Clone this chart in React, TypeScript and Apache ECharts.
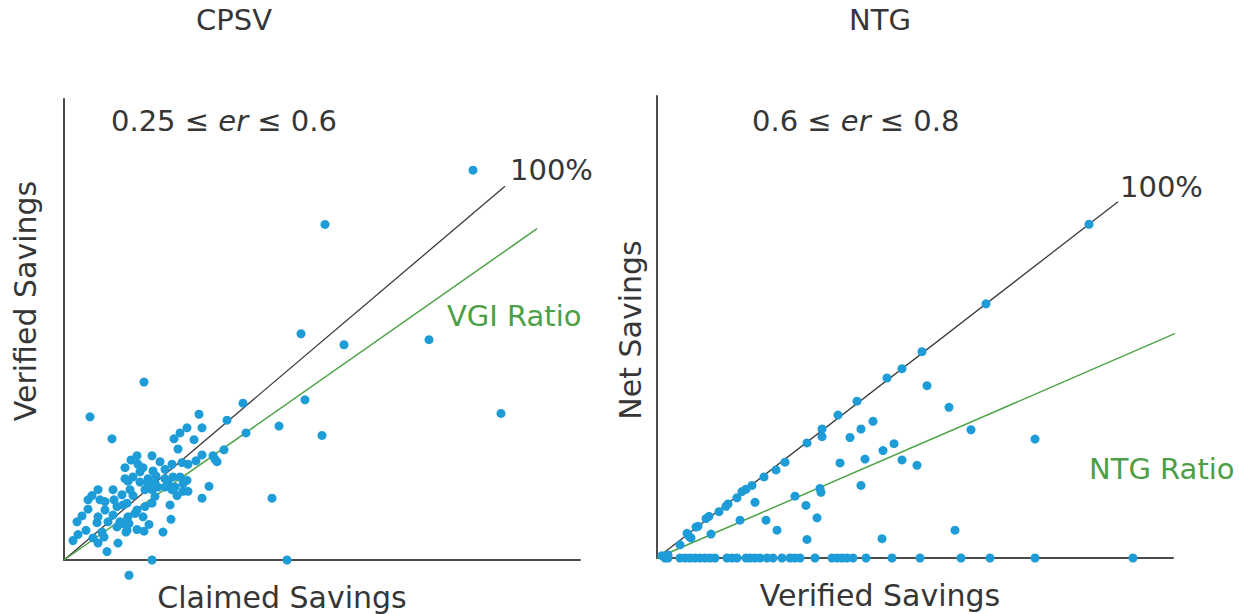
import React, { useEffect, useRef } from "react";
import * as echarts from "echarts";

// ---- CPSV panel: Claimed Savings (x) vs Verified Savings (y) ----
const cpsvPoints: [number, number][] = [
  [80, 210], [26, 169], [48, 143], [135, 172], [179, 185], [163, 165], [123, 156], [116, 150],
  [110, 143], [138, 156], [130, 142], [114, 131], [182, 150], [160, 130], [138, 124], [149, 123],
  [153, 116], [132, 117], [124, 113], [118, 115], [108, 113], [101, 107], [96, 116], [88, 123],
  [73, 123], [67, 118], [74, 113], [79, 109], [61, 109], [76, 104], [89, 105], [92, 99],
  [84, 96], [69, 98], [64, 93], [76, 92], [84, 91], [91, 91], [101, 96], [109, 98],
  [116, 98], [123, 94], [111, 86], [101, 86], [94, 86], [88, 83], [81, 83], [119, 81],
  [113, 76], [124, 81], [145, 87], [138, 73], [106, 65], [91, 75], [88, 67], [81, 63],
  [73, 59], [79, 51], [107, 48], [99, 33], [85, 42], [80, 34], [73, 36], [62, 33],
  [65, 43], [64, 51], [56, 45], [53, 39], [44, 45], [38, 33], [54, 20], [43, 10],
  [34, 20], [40, 27], [33, 44], [34, 51], [41, 59], [24, 60], [18, 52], [13, 45],
  [22, 35], [14, 30], [9, 23], [29, 26], [24, 71], [28, 76], [34, 83], [36, 71],
  [41, 69], [49, 83], [50, 71], [58, 77], [53, 63], [59, 65], [63, 67], [69, 76],
  [61, 96], [66, 83], [49, 53], [59, 43], [71, 55], [63, 35], [88, 0], [65, -18],
  [104, 92], [108, 83], [151, 119], [119, 90], [208, 73], [223, 0],
  [409, 460], [261, 396], [237, 267], [280, 254], [365, 260], [241, 189], [437, 173],
  [215, 158], [258, 147]
];
const cpsvFullLine: [number, number][] = [[0, 0], [441, 441]];
const cpsvRatioLine: [number, number][] = [[0, 0], [473, 391]];

// ---- NTG panel: Verified Savings (x) vs Net Savings (y) ----
const ntgPoints: [number, number][] = [
  [432, 432], [329, 329], [265, 267], [245, 245], [230, 233], [200, 203], [181, 185], [165, 167],
  [165, 157], [150, 149], [128, 124], [119, 114], [107, 105], [95, 94], [89, 89], [85, 86],
  [80, 78], [71, 70], [69, 67], [62, 60], [52, 54], [49, 51], [41, 41], [39, 40],
  [30, 32], [32, 28], [34, 26], [23, 17], [11, 4], [5, 3],
  [270, 223], [292, 195], [314, 166], [378, 154], [216, 177], [204, 167], [193, 156], [237, 148],
  [226, 139], [208, 128], [245, 127], [260, 120], [183, 123], [204, 94], [163, 90], [164, 85],
  [138, 80], [98, 72], [149, 68], [160, 52], [109, 49], [120, 36], [83, 49], [54, 31],
  [150, 24], [225, 25], [298, 36]
];
const ntgZeroX: number[] = [
  8, 11, 23, 28, 33, 38, 43, 48, 53, 58, 70, 75, 80, 89, 93, 98, 103, 110, 116, 125,
  133, 138, 143, 158, 175, 180, 185, 190, 196, 209, 235, 263, 304, 333, 378, 476
];
const ntgFullLine: [number, number][] = [[0, 0], [461, 461]];
const ntgRatioLine: [number, number][] = [[0, 0], [526, 295]];

const panelTitles = ["CPSV", "NTG"];
const rangeLabels = [
  ["0.25 ≤ ", "er", " ≤ 0.6"],
  ["0.6 ≤ ", "er", " ≤ 0.8"],
];
const xAxisNames = ["Claimed Savings", "Verified Savings"];
const yAxisNames = ["Verified Savings", "Net Savings"];
const lineLabels = ["100%", "VGI Ratio", "NTG Ratio"];

const DOT = "#1d9cd8";
const GREEN = "#4ea448";
const GREEN_TEXT = "#4c9f46";
const DARK = "#363636";
const AXIS = "#4a4a4a";
const FONT = "'DejaVu Sans', Verdana, sans-serif";

export default function App() {
  const ref = useRef<HTMLDivElement>(null);

  useEffect(() => {
    if (!ref.current) return;
    const chart = echarts.init(ref.current, undefined, { renderer: "svg" });

    const axisCommon = {
      type: "value" as const,
      axisLine: { show: true, lineStyle: { color: AXIS, width: 2 } },
      axisTick: { show: false },
      axisLabel: { show: false },
      splitLine: { show: false },
    };

    const txt = (text: string, x: number, y: number, opts: any = {}) => ({
      type: "text",
      x,
      y,
      rotation: opts.rotation || 0,
      style: {
        text,
        fill: opts.fill || DARK,
        font: `${opts.size || 29}px ${FONT}`,
        textAlign: opts.align || "center",
        textVerticalAlign: "middle",
      },
    });

    const rangeText = (parts: string[], x: number, y: number) => ({
      type: "text",
      x,
      y,
      style: {
        text: `{n|${parts[0]}}{i|${parts[1]}}{n|${parts[2]}}`,
        fill: DARK,
        textAlign: "left",
        textVerticalAlign: "middle",
        rich: {
          n: { fontSize: 29, fontFamily: FONT, fill: DARK },
          i: { fontSize: 29, fontFamily: FONT, fontStyle: "italic", fill: DARK },
        },
      },
    });

    const scatter = (idx: number, data: [number, number][]) => ({
      type: "scatter",
      xAxisIndex: idx,
      yAxisIndex: idx,
      data,
      symbolSize: 9,
      clip: false,
      itemStyle: { color: DOT, opacity: 1 },
      z: 5,
    });

    const line = (idx: number, data: [number, number][], color: string, width: number) => ({
      type: "line",
      xAxisIndex: idx,
      yAxisIndex: idx,
      data,
      symbol: "none",
      lineStyle: { color, width },
      z: 3,
      silent: true,
    });

    chart.setOption({
      animation: false,
      backgroundColor: "#ffffff",
      grid: [
        { left: 64, top: 99, width: 516, height: 461 },
        { left: 657, top: 96, width: 516, height: 462 },
      ],
      xAxis: [
        { ...axisCommon, gridIndex: 0, min: 0, max: 516 },
        { ...axisCommon, gridIndex: 1, min: 0, max: 516 },
      ],
      yAxis: [
        { ...axisCommon, gridIndex: 0, min: 0, max: 544 },
        { ...axisCommon, gridIndex: 1, min: 0, max: 598 },
      ],
      series: [
        line(0, cpsvFullLine, "#3a3a3a", 1.3),
        line(0, cpsvRatioLine, GREEN, 1.5),
        scatter(0, cpsvPoints),
        line(1, ntgFullLine, "#3a3a3a", 1.3),
        line(1, ntgRatioLine, GREEN, 1.5),
        scatter(1, ntgPoints),
        scatter(1, ntgZeroX.map((x) => [x, 0] as [number, number])),
      ],
      graphic: [
        txt(panelTitles[0], 234, 20),
        txt(panelTitles[1], 880, 20),
        rangeText(rangeLabels[0], 111, 121),
        rangeText(rangeLabels[1], 752, 121),
        txt(lineLabels[0], 510, 170, { align: "left" }),
        txt(lineLabels[1], 447, 316, { align: "left", fill: GREEN_TEXT }),
        txt(lineLabels[0], 1120, 187, { align: "left" }),
        txt(lineLabels[2], 1089, 469, { align: "left", fill: GREEN_TEXT }),
        txt(xAxisNames[0], 282, 597, { size: 30 }),
        txt(xAxisNames[1], 880, 595, { size: 30 }),
        txt(yAxisNames[0], 25, 301, { size: 30, rotation: Math.PI / 2 }),
        txt(yAxisNames[1], 630, 330, { size: 30, rotation: Math.PI / 2 }),
      ],
    });

    return () => chart.dispose();
  }, []);

  return (
    <div
      ref={ref}
      style={{ position: "fixed", left: 0, top: 0, width: 1239, height: 614, background: "#fff" }}
    />
  );
}
